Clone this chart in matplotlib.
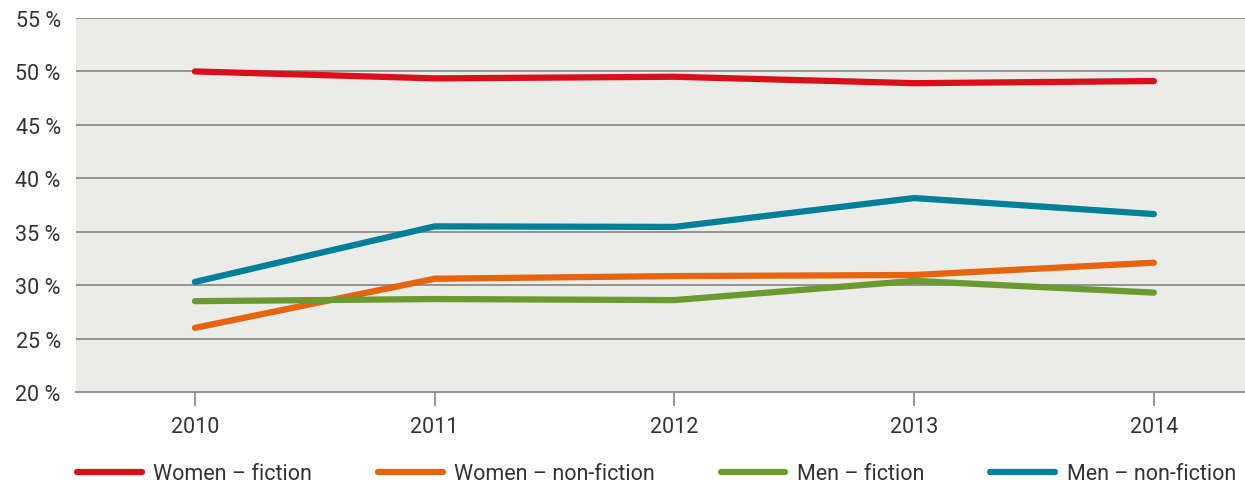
import matplotlib
matplotlib.use("Agg")
import matplotlib.pyplot as plt

years = [2010, 2011, 2012, 2013, 2014]
women_fiction = [50.0, 49.35, 49.5, 48.9, 49.1]
women_nonfiction = [26.0, 30.6, 30.85, 30.95, 32.1]
men_fiction = [28.5, 28.7, 28.6, 30.4, 29.3]
men_nonfiction = [30.3, 35.5, 35.45, 38.15, 36.65]
labels = ["Women – fiction", "Women – non-fiction", "Men – fiction", "Men – non-fiction"]
colors = ["#d9101a", "#e5640d", "#6a9a31", "#007f98"]
yticks = [20, 25, 30, 35, 40, 45, 50, 55]

plt.rcParams['font.family'] = ['Roboto', 'DejaVu Sans']
FS = 15.5

fig = plt.figure(figsize=(12.45, 5.02), dpi=100)
ax = fig.add_axes([76/1245, 1-393/502, 1-76/1245, (393-19)/502])
ax.set_facecolor("#ebebe7")

series = [women_fiction, women_nonfiction, men_fiction, men_nonfiction]
for vals, lab, c in zip(series, labels, colors):
    ax.plot(years, vals, color=c, lw=4.5, solid_capstyle='round', label=lab, zorder=3)

ax.set_xlim(2009.504, 2014.38)
ax.set_ylim(20, 55)
ax.set_yticks(yticks)
ax.set_yticklabels([f"{v} %" for v in yticks])
ax.set_xticks(years)
ax.set_xticklabels([str(y) for y in years])
for v in yticks[1:]:
    ax.axhline(v, color="#8c8c8c", lw=1.3, zorder=1)
for s in ["top", "right", "left"]:
    ax.spines[s].set_visible(False)
ax.spines["bottom"].set_color("#8c8c8c")
ax.spines["bottom"].set_linewidth(1.3)
ax.tick_params(axis='y', length=0, pad=11, labelsize=FS, labelcolor="#333333")
ax.tick_params(axis='x', length=10, width=1.3, color="#8c8c8c", pad=7, labelsize=FS, labelcolor="#333333")

fig.legend(loc='center left', bbox_to_anchor=(77/1245, 27/502), ncol=4, frameon=False,
           fontsize=FS, handlelength=3.0, handletextpad=0.55, columnspacing=3.05,
           borderpad=0, borderaxespad=0, labelcolor="#333333")

fig.savefig("out.png", dpi=100)
